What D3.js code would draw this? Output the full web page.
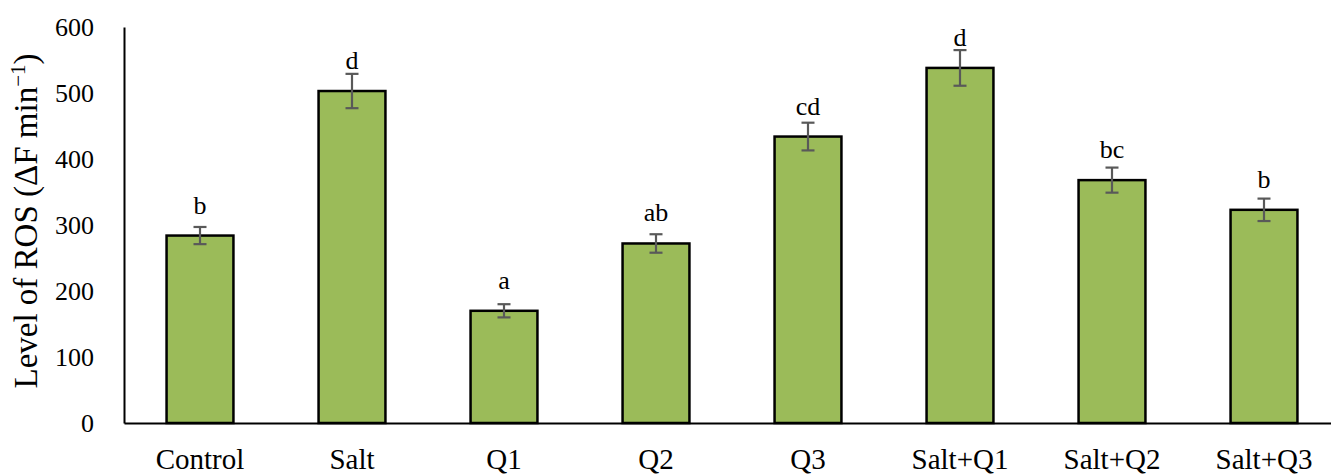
<!DOCTYPE html>
<html>
<head>
<meta charset="utf-8">
<script src="https://cdnjs.cloudflare.com/ajax/libs/d3/7.8.5/d3.min.js"></script>
<style>
  body { margin: 0; background: #fff; }
  svg text { font-family: "Liberation Serif", "Times New Roman", serif; fill: #000; }
</style>
</head>
<body>
<svg id="chart" width="1331" height="475"></svg>
<script>
// data
var categories = ["Control", "Salt", "Q1", "Q2", "Q3", "Salt+Q1", "Salt+Q2", "Salt+Q3"];
var ros = [284, 503, 170, 272, 434, 538, 368, 323];
var ros_err = [13, 26, 10, 14, 21, 27, 19, 17];
var letters = ["b", "d", "a", "ab", "cd", "d", "bc", "b"];
var yTicks = [0, 100, 200, 300, 400, 500, 600];

var padLeft = 124, padTop = 27, padBottom = 423;

var svg = d3.select("#chart");

var x = d3.scaleBand().domain(categories).range([padLeft, padLeft + 8 * 152]).paddingInner(0.56).paddingOuter(0.28);
var y = d3.scaleLinear().domain([0, 600]).range([padBottom, padTop]);

var rows = categories.map(function(c, i) {
  return {cat: c, v: ros[i], e: ros_err[i], l: letters[i]};
});

// bars
svg.selectAll("rect.bar")
  .data(rows)
  .enter().append("rect")
  .attr("class", "bar")
  .attr("x", function(d) { return x(d.cat); })
  .attr("width", x.bandwidth())
  .attr("y", function(d) { return y(d.v); })
  .attr("height", function(d) { return y(0) - y(d.v); })
  .attr("fill", "#9bbb59")
  .attr("stroke", "#000")
  .attr("stroke-width", 2.5);

// error bars
var eb = svg.selectAll("g.err").data(rows).enter().append("g").attr("class", "err")
  .attr("stroke", "#595959").attr("stroke-width", 2.2);
eb.append("line")
  .attr("x1", function(d) { return x(d.cat) + x.bandwidth() / 2; })
  .attr("x2", function(d) { return x(d.cat) + x.bandwidth() / 2; })
  .attr("y1", function(d) { return y(d.v + d.e); })
  .attr("y2", function(d) { return y(d.v - d.e); });
eb.selectAll("line.cap")
  .data(function(d) { return [{c: d.cat, v: d.v + d.e}, {c: d.cat, v: d.v - d.e}]; })
  .enter().append("line")
  .attr("class", "cap")
  .attr("x1", function(d) { return x(d.c) + x.bandwidth() / 2 - 6.5; })
  .attr("x2", function(d) { return x(d.c) + x.bandwidth() / 2 + 6.5; })
  .attr("y1", function(d) { return y(d.v); })
  .attr("y2", function(d) { return y(d.v); });

// significance letters
svg.selectAll("text.sig")
  .data(rows)
  .enter().append("text")
  .attr("class", "sig")
  .attr("x", function(d) { return x(d.cat) + x.bandwidth() / 2; })
  .attr("y", function(d) { return y(d.v) - 22; })
  .attr("text-anchor", "middle")
  .style("font-size", "26px")
  .text(function(d) { return d.l; });

// y axis
var yAxis = d3.axisLeft(y).tickValues(yTicks).tickSize(0).tickPadding(30);
var gy = svg.append("g").attr("transform", "translate(" + padLeft + ",0)").call(yAxis);
gy.select(".domain").attr("stroke", "#000").attr("stroke-width", 2);
gy.selectAll(".tick text").style("font-size", "26px").attr("font-family", null);

// x axis
var xAxis = d3.axisBottom(x).tickSize(0).tickPadding(25);
var gx = svg.append("g").attr("transform", "translate(0," + padBottom + ")").call(xAxis);
gx.select(".domain").attr("stroke", "#000").attr("stroke-width", 2);
gx.selectAll(".tick text").style("font-size", "29px").attr("font-family", null);

// y title
var title = svg.append("text")
  .attr("transform", "translate(37," + ((padTop + padBottom) / 2 - 4) + ") rotate(-90)")
  .attr("text-anchor", "middle")
  .style("font-size", "33px");
title.append("tspan").text("Level of ROS (ΔF min");
title.append("tspan").attr("dy", -12).style("font-size", "21px").text("−1");
title.append("tspan").attr("dy", 12).text(")");
</script>
</body>
</html>
